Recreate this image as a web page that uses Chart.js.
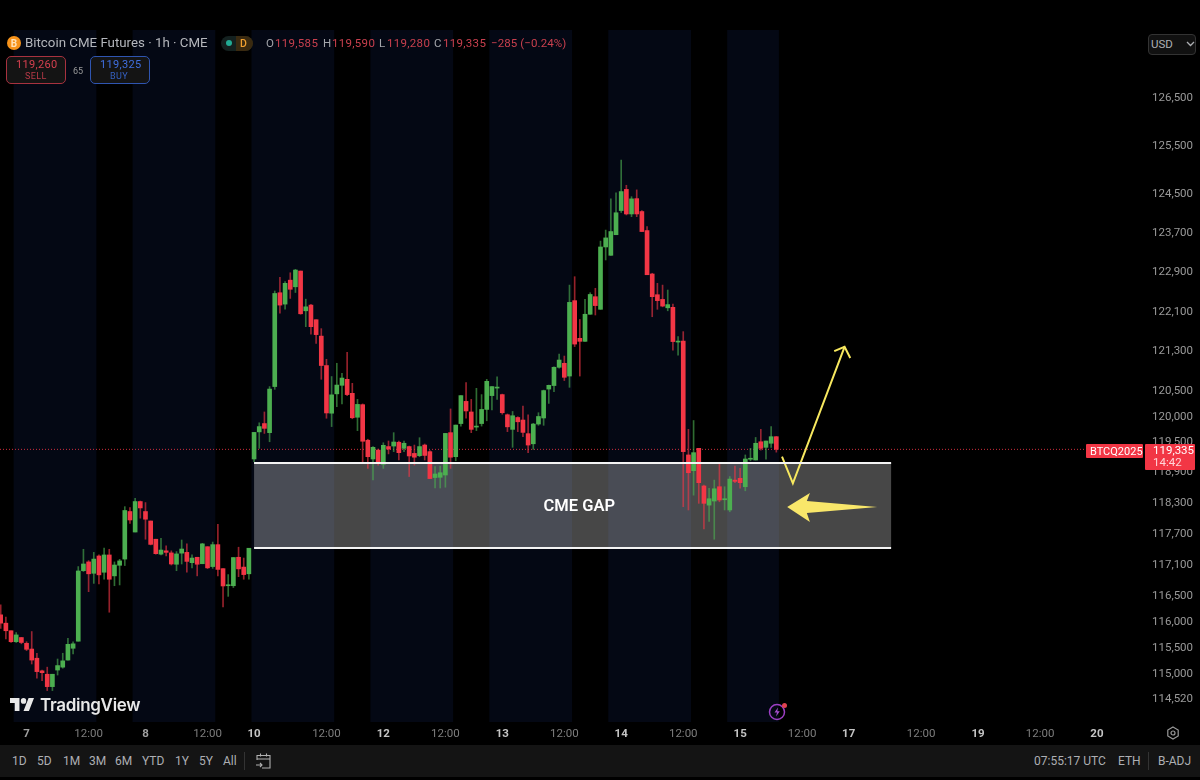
<!DOCTYPE html>
<html>
<head>
<meta charset="utf-8">
<title>Bitcoin CME Futures</title>
<script src="https://cdn.jsdelivr.net/npm/chart.js@4/dist/chart.umd.min.js"></script>
<style>
html,body{margin:0;padding:0;background:#000;}
#wrap{position:relative;width:1200px;height:780px;overflow:hidden;background:#000;font-family:Roboto,sans-serif;}
canvas{position:absolute;left:0;top:0;}
.t{position:absolute;white-space:nowrap;line-height:1;transform:translateY(-50%);}
.box{position:absolute;box-sizing:border-box;}
.r{color:#c9404e}.g{color:#a4a6ab}
.bar{position:absolute;left:0;top:745px;width:1200px;height:32px;background:#141414;}
.tb{color:#adafb3;font-size:12px;top:761px;}
svg{position:absolute;}
</style>
</head>
<body>
<div id="wrap">
<canvas id="c" width="1200" height="780"></canvas>

<svg style="left:7px;top:36px" width="14" height="14" viewBox="0 0 14 14"><circle cx="7" cy="7" r="7" fill="#f7931a"/><text x="7" y="10.5" font-size="10" font-weight="700" text-anchor="middle" fill="#ffe2b8" font-family="Roboto">B</text></svg>
<span class="t" style="left:25px;top:43px;font-size:13.3px;color:#b4b6bb">Bitcoin CME Futures · 1h · CME</span>
<div class="box" style="left:221px;top:36px;width:32px;height:15px;border-radius:8px;background:#14211f"></div>
<div class="box" style="left:236px;top:36px;width:17px;height:15px;border-radius:0 8px 8px 0;background:#3a2a10"></div>
<div class="box" style="left:226px;top:40px;width:6px;height:6px;border-radius:50%;background:#22ab94"></div>
<span class="t" style="left:240px;top:43.5px;font-size:10.5px;font-weight:500;color:#f0a030">D</span>
<span class="t g" style="left:266px;top:43.5px;font-size:11.5px">O</span><span class="t r" style="left:275px;top:43.5px;font-size:11.5px;letter-spacing:.3px">119,585</span>
<span class="t g" style="left:323px;top:43.5px;font-size:11.5px">H</span><span class="t r" style="left:332px;top:43.5px;font-size:11.5px;letter-spacing:.3px">119,590</span>
<span class="t g" style="left:379px;top:43.5px;font-size:11.5px">L</span><span class="t r" style="left:387px;top:43.5px;font-size:11.5px;letter-spacing:.3px">119,280</span>
<span class="t g" style="left:434px;top:43.5px;font-size:11.5px">C</span><span class="t r" style="left:443px;top:43.5px;font-size:11.5px;letter-spacing:.3px">119,335</span>
<span class="t r" style="left:491px;top:43.5px;font-size:11.5px;letter-spacing:.1px">−285 (−0.24%)</span>

<div class="box" style="left:6px;top:56px;width:60px;height:28px;border:1px solid #a8323f;border-radius:5px;background:#141414"></div>
<span class="t" style="left:16px;top:64px;font-size:11px;letter-spacing:.3px;color:#d5404f">119,260</span>
<span class="t" style="left:25px;top:76px;font-size:9px;letter-spacing:.4px;color:#b83a48">SELL</span>
<span class="t" style="left:73px;top:70.5px;font-size:9px;color:#9a9a9a">65</span>
<div class="box" style="left:90px;top:56px;width:60px;height:28px;border:1px solid #2f55b0;border-radius:5px;background:#141414"></div>
<span class="t" style="left:100px;top:64px;font-size:11px;letter-spacing:.3px;color:#3f6fe0">119,325</span>
<span class="t" style="left:110px;top:76px;font-size:9px;letter-spacing:.4px;color:#3560c0">BUY</span>

<div class="box" style="left:1148px;top:34px;width:48px;height:21px;border:1px solid #333;border-radius:4px;background:#111"></div>
<span class="t" style="left:1151px;top:44.5px;font-size:11.5px;color:#aeb0b4">USD</span>
<svg style="left:1186px;top:41px" width="9" height="6" viewBox="0 0 9 6"><path d="M1 1l3.5 3.5L8 1" fill="none" stroke="#aeb0b4" stroke-width="1.3"/></svg>

<div class="box" style="left:1086px;top:444px;width:57px;height:14px;background:#f23645;border-radius:1px"></div>
<span class="t" style="left:1090px;top:451px;font-size:11px;color:#fff">BTCQ2025</span>
<div class="box" style="left:1145px;top:444px;width:50px;height:26px;background:#f23645;border-radius:1px"></div>
<span class="t" style="left:1153px;top:451px;font-size:11.5px;color:#fff">119,335</span>
<span class="t" style="left:1153px;top:462.5px;font-size:11.5px;color:#ffd5d9">14:42</span>

<svg style="left:9.5px;top:698px" width="24" height="13" viewBox="0 4 35.5 18" preserveAspectRatio="none"><path fill="#e8e8e8" d="M14 22H7V11H0V4h14v18zM28 22h-8l7.5-18h8L28 22z"/><circle cx="20" cy="8" r="4" fill="#e8e8e8"/></svg>
<span class="t" style="left:40px;top:705px;font-size:17px;font-weight:600;font-family:Inter,sans-serif;letter-spacing:-.3px;color:#e8e8e8">TradingView</span>

<svg style="left:767px;top:702px" width="22" height="20" viewBox="0 0 22 20"><circle cx="10" cy="10" r="7.5" fill="none" stroke="#9c3fc4" stroke-width="1.5"/><path d="M11 5.5L7.5 10.5h2.5L9 14.5l3.8-5.2h-2.5z" fill="#a94fd0"/><circle cx="17.5" cy="3.5" r="2.5" fill="#e0424f"/></svg>
<svg style="left:1166px;top:726px" width="14" height="14" viewBox="0 0 14 14"><path d="M7 1l5.2 3v6L7 13l-5.2-3V4z" fill="none" stroke="#9a9a9a" stroke-width="1.2"/><circle cx="7" cy="7" r="2" fill="none" stroke="#9a9a9a" stroke-width="1.2"/></svg>

<div class="bar"></div>
<span class="t tb" style="left:12px">1D</span><span class="t tb" style="left:37px">5D</span>
<span class="t tb" style="left:63px">1M</span><span class="t tb" style="left:89px">3M</span>
<span class="t tb" style="left:115px">6M</span><span class="t tb" style="left:142px">YTD</span>
<span class="t tb" style="left:175px">1Y</span><span class="t tb" style="left:199px">5Y</span>
<span class="t tb" style="left:223px">All</span>
<div class="box" style="left:244px;top:752px;width:1px;height:18px;background:#333"></div>
<svg style="left:255px;top:752px" width="17" height="18" viewBox="0 0 17 18"><path d="M2 8V3.5h13V16H7M2 7h13M5.5 1.5v3M11.500 1.5v3M1 13h6M5 11l2 2-2 2" fill="none" stroke="#b0b0b0" stroke-width="1.1"/></svg>
<span class="t tb" style="left:1034px">07:55:17 UTC</span>
<span class="t tb" style="left:1118px">ETH</span>
<div class="box" style="left:1148px;top:752px;width:1px;height:18px;background:#333"></div>
<span class="t tb" style="left:1158px">B-ADJ</span>
</div>

<script>
const opens=[116115,115955,115810,115600,115680,115570,115460,115285,115045,114980,114745,115060,115115,115250,115475,115610,116965,117135,116915,117250,116935,117270,116865,117070,117190,118115,117715,118310,118115,117930,117575,117285,117350,117310,117090,117305,117320,117120,117225,117100,117430,117045,117470,117005,116675,116675,117225,117035,116905,119145,119680,119845,119665,120580,122465,122235,122720,122585,122905,122100,122215,121920,121590,121000,120050,120435,120605,120725,120445,119970,120220,119515,119145,119320,119040,119390,119400,119475,119355,119390,119255,119210,119420,119290,118780,118785,118830,119665,119190,119845,120285,120075,119775,119845,120125,120400,120550,120420,120020,119730,119965,119915,119645,119445,119835,119955,120530,120600,120965,121045,120790,122305,121545,121485,122030,122385,122130,123395,123225,123645,124140,124575,124070,124385,124120,123730,122845,122425,122330,122160,122170,121470,121490,119225,118915,119355,118615,118240,118320,118600,118345,118145,118730,118765,118600,119140,119125,119485,119375,119455,119585];
const highs=[116305,116070,115810,115775,115680,115600,115795,115380,115060,115115,114980,115270,115380,115665,115600,117045,117380,117160,117320,117270,117405,117380,117135,117185,118210,118190,118375,118320,118290,117930,117575,117595,117445,117350,117335,117560,117485,117270,117225,117495,117430,117520,117865,117005,116890,117220,117420,117210,117400,119670,119860,120075,120580,122500,122775,122690,122870,122940,122905,122335,122230,121920,121740,121125,120780,121045,120845,121265,120645,120325,120235,119535,119390,119340,119465,119500,119665,119500,119500,119400,119420,119565,119440,119310,118995,119005,119650,120135,119815,120400,120660,120325,120545,120420,120725,120580,120775,120430,120035,120085,119980,120190,120020,119850,120060,120510,120610,120975,121230,121190,122620,122790,121925,122330,122465,122555,123515,123740,124380,124505,125180,124660,124425,124565,124140,123810,122860,122655,122620,122520,122235,121580,121680,119730,119905,119355,118630,118570,118730,119040,118600,118800,119005,118960,119225,119355,119570,119730,119500,119785,119590];
const lows=[115855,115655,115585,115585,115560,115430,115175,114905,114860,114670,114670,114965,115095,115250,115365,115610,116950,116560,116720,116710,116800,116165,116675,116690,117065,117885,117715,117985,117575,117465,117285,117270,117250,117075,116965,117095,116935,117020,116865,117100,117005,117010,116865,116265,116470,116640,116850,116800,116800,119090,119355,119650,119485,120525,122050,122135,122350,122470,122030,121780,121630,121445,120725,119950,119785,120180,120235,120400,119940,119705,119060,118960,118735,119025,118960,119245,119290,119125,119290,118800,119025,119190,119125,118760,118575,118575,118590,118960,119110,119795,119950,119665,119705,119795,119900,120115,120325,120030,119685,119375,119685,119585,119270,119335,119810,119810,120245,120480,120945,120700,120565,121380,120790,121485,122030,122015,122130,123130,123225,123645,124100,124050,124015,124015,123710,122830,121980,122130,122180,122100,121310,121210,118210,118145,118435,118275,117775,117920,117575,118305,118145,118110,118680,118570,118520,119110,119125,119320,119140,119375,119280];
const closes=[115955,115810,115600,115730,115585,115455,115250,115030,115010,114745,114980,115145,115235,115550,115560,116960,117095,116905,117190,116885,117270,116800,117075,117155,118135,117950,118310,118185,117965,117475,117295,117365,117320,117095,117290,117385,117145,117210,117090,117485,117020,117470,116990,116670,116690,117220,117000,116890,117400,119670,119785,119750,120530,122450,122215,122655,122535,122925,122040,122180,121780,121620,121000,120055,120415,120610,120750,120420,119960,120225,119495,119190,119375,119060,119415,119340,119480,119270,119455,119205,119180,119390,119215,118760,118850,118875,119650,119180,119815,120400,120095,119730,119795,120125,120685,120580,120570,120060,119780,120000,119880,119670,119420,119835,119985,120500,120605,120965,121110,120765,122270,121430,121485,122030,122430,122205,123395,123580,123710,124095,124530,124070,124380,124070,123710,122830,122385,122305,122195,122225,121480,121490,119290,118875,119270,118680,118275,118365,118560,118340,118365,118750,118705,118680,119145,119160,119455,119355,119500,119585,119335];

const priceTicks=[126500,125500,124500,123700,122900,122100,121300,120500,120000,119500,118900,118300,117700,117100,116500,116000,115500,115000,114520];
const xTickIdx=[5,17,28,40,49,63,74,86,97,109,120,132,143,155,164,178,189,201,212];
const xTickLabels=['7','12:00','8','12:00','10','12:00','12','12:00','13','12:00','14','12:00','15','12:00','17','12:00','19','12:00','20'];

const bandStart=[2.5,25.5,48.5,71.5,94.5,117.5,140.5];
const bandEnd=[18.5,41.5,64.5,87.5,110.5,133.5,150.5];
const gapTop=119066, gapBottom=117405, gapFrom=49, gapTo=172.2, gapTextIdx=111.9;
const lastPrice=closes[closes.length-1];
const guideIdx=[151.1,153.2,163.2];
const guidePrice=[119190,118667,121375];
const headIdx=[161.2,163.2,164.3];
const headPrice=[121290,121375,121150];
const bigArrowIdx=[152.1,156.5,155.9,169.5,155.9,156.5];
const bigArrowPrice=[118203,118477,118321,118203,118086,117911];

const GREEN='#4caf50',RED='#f23645';
const up=opens.map((o,i)=>closes[i]>=o);
const xMin=-0.135,xMax=221.3,priceLineEnd=210.1;

function tickLabel(c){
  return c && c.tick ? xTickLabels[xTickIdx.indexOf(c.tick.value)] : '12:00';
}

const overlay={
  id:'overlay',
  beforeDatasetsDraw(ch){
    const {ctx,scales:{x,y},chartArea:a}=ch;
    ctx.save();
    ctx.fillStyle='#040814';
    bandStart.forEach((s,i)=>{
      const l=x.getPixelForValue(s),r=x.getPixelForValue(bandEnd[i]);
      ctx.fillRect(l,a.top,r-l,a.bottom-a.top);
    });
    const l=x.getPixelForValue(gapFrom),r=x.getPixelForValue(gapTo);
    const t=y.getPixelForValue(gapTop),b=y.getPixelForValue(gapBottom);
    ctx.fillStyle='rgba(255,255,255,0.28)';
    ctx.fillRect(l,t,r-l,b-t);
    ctx.restore();
  },
  afterDatasetsDraw(ch){
    const {ctx,scales:{x,y}}=ch;
    ctx.save();
    const l=x.getPixelForValue(gapFrom),r=x.getPixelForValue(gapTo);
    const t=y.getPixelForValue(gapTop),b=y.getPixelForValue(gapBottom);
    ctx.fillStyle='#f4f4f4';
    ctx.fillRect(l,t-1,r-l,2);
    ctx.fillRect(l,b-1,r-l,2);
    ctx.fillStyle='#ffffff';
    ctx.font='600 16.500px Roboto, sans-serif';
    ctx.textAlign='center';ctx.textBaseline='middle';
    ctx.fillText('CME GAP',x.getPixelForValue(gapTextIdx),(t+b)/2+1);
    ctx.fillStyle='#f9e76a';
    ctx.beginPath();
    bigArrowIdx.forEach((v,i)=>{
      const px=x.getPixelForValue(v),py=y.getPixelForValue(bigArrowPrice[i]);
      i?ctx.lineTo(px,py):ctx.moveTo(px,py);
    });
    ctx.closePath();ctx.fill();
    ctx.restore();
  }
};

new Chart(document.getElementById('c'),{
  data:{datasets:[
    {type:'bar',grouped:false,order:5,barThickness:1,
     data:lows.map((v,i)=>({x:i,y:[v,highs[i]]})),
     backgroundColor:up.map(u=>u?'rgba(76,175,80,0.62)':'rgba(242,54,69,0.62)')},
    {type:'bar',grouped:false,order:4,barThickness:4,minBarLength:1,
     data:opens.map((v,i)=>({x:i,y:[v,closes[i]]})),
     backgroundColor:up.map(u=>u?GREEN:RED)},
    {type:'line',order:6,pointRadius:0,borderWidth:1,borderDash:[1,2],borderColor:'rgba(242,54,69,0.85)',
     data:[{x:xMin,y:lastPrice},{x:priceLineEnd,y:lastPrice}]},
    {type:'line',order:1,pointRadius:0,borderWidth:2,borderColor:'#f7e85f',tension:0,
     data:guideIdx.map((v,i)=>({x:v,y:guidePrice[i]}))},
    {type:'line',order:1,pointRadius:0,borderWidth:2,borderColor:'#f7e85f',tension:0,
     data:headIdx.map((v,i)=>({x:v,y:headPrice[i]}))}
  ]},
  options:{
    responsive:false,animation:false,devicePixelRatio:1,
    layout:{padding:{top:30,left:0,right:0,bottom:0}},
    plugins:{legend:{display:false},tooltip:{enabled:false}},
    events:[],
    scales:{
      x:{type:'linear',min:xMin,max:xMax,bounds:'data',offset:false,
        grid:{display:false,drawTicks:false},border:{display:false},
        afterBuildTicks(s){s.ticks=xTickIdx.map(v=>({value:v}));},
        afterFit(s){s.height=58;},
        ticks:{autoSkip:false,maxRotation:0,minRotation:0,padding:5,
          callback(v){return xTickLabels[xTickIdx.indexOf(v)];},
          font(c){return {family:'Roboto',size:11.5,weight:tickLabel(c)==='12:00'?'400':'700'};},
          color(c){const l=tickLabel(c);
            return l==='12:00'?'#7d7d7d':(l==='7'||l==='8'?'#a0a0a0':'#c4c4c4');}
        }},
      y:{type:'logarithmic',position:'right',min:114076,max:127901,bounds:'data',
        grid:{display:false,drawTicks:false},border:{display:false},
        afterBuildTicks(s){s.ticks=priceTicks.map(v=>({value:v}));},
        afterFit(s){s.width=55;},
        ticks:{autoSkip:false,padding:7,labelOffset:1,color:'#9a9a9a',font:{family:'Roboto',size:11.5},
          callback(v){return Number(v).toLocaleString('en-US');}}
      }
    }
  },
  plugins:[overlay]
});
</script>
</body>
</html>
